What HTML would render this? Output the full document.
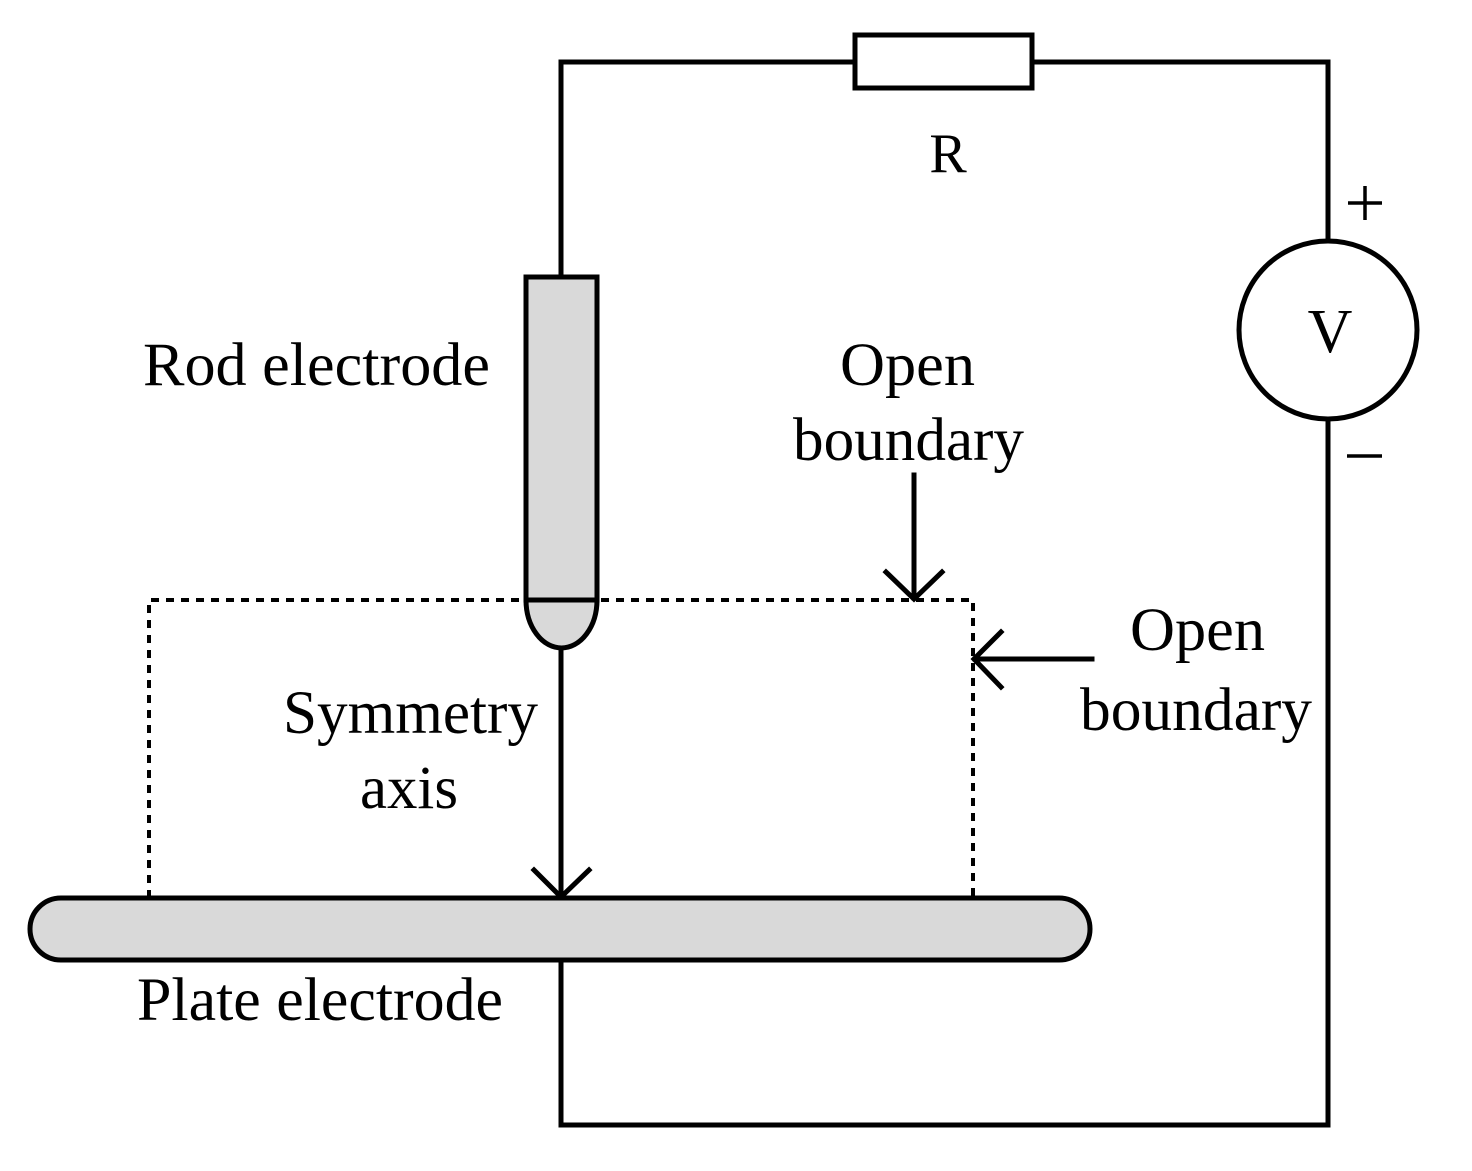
<!DOCTYPE html>
<html><head><meta charset="utf-8"><style>
html,body{margin:0;padding:0;background:#fff;}
svg{display:block}
text{font-family:"Liberation Serif",serif;fill:#000}
</style></head><body>
<svg width="1472" height="1171" viewBox="0 0 1472 1171" xmlns="http://www.w3.org/2000/svg">
<g stroke="#000" stroke-width="5" fill="none" stroke-linecap="square">
<polyline points="561,277 561,62 855,62"/>
<rect x="855" y="35" width="177" height="53"/>
<polyline points="1032,62 1328,62 1328,240"/>
<circle cx="1328" cy="330" r="89"/>
<polyline points="1328,420 1328,1125 561,1125 561,960"/>
<path d="M526,277 L597,277 L597,600 A35.5,48 0 0 1 526,600 Z" fill="#d9d9d9"/>
<line x1="526" y1="600" x2="597" y2="600"/>
<line x1="561" y1="648" x2="561" y2="897"/>
<polyline points="534,870 561,897 589,870"/>
<polyline points="149,898 149,600 973,600 973,898" stroke-dasharray="8,7" stroke-linecap="butt" stroke-width="4"/>
<rect x="30" y="898" width="1060" height="62" rx="31" ry="31" fill="#d9d9d9"/>
<line x1="914" y1="475" x2="914" y2="598"/>
<polyline points="886,572 914,599 942,572"/>
<line x1="1092" y1="659" x2="975" y2="659"/>
<polyline points="1001,632 974,659 1001,687"/>
</g>
<g stroke="#000" stroke-width="3.5">
<line x1="1348" y1="203" x2="1382" y2="203"/>
<line x1="1365" y1="186" x2="1365" y2="220"/>
<line x1="1347" y1="456" x2="1382" y2="456"/>
</g>
<text x="948" y="172" font-size="56" text-anchor="middle">R</text>
<text x="1330" y="352" font-size="62" text-anchor="middle">V</text>
<text x="143" y="385" font-size="61" textLength="347" lengthAdjust="spacingAndGlyphs">Rod electrode</text>
<text x="840" y="385" font-size="61" textLength="135" lengthAdjust="spacingAndGlyphs">Open</text>
<text x="793" y="460" font-size="61" textLength="231" lengthAdjust="spacingAndGlyphs">boundary</text>
<text x="1130" y="650" font-size="61" textLength="135" lengthAdjust="spacingAndGlyphs">Open</text>
<text x="1080" y="730" font-size="61" textLength="232" lengthAdjust="spacingAndGlyphs">boundary</text>
<text x="283" y="733" font-size="61" textLength="255" lengthAdjust="spacingAndGlyphs">Symmetry</text>
<text x="360" y="808" font-size="61" textLength="98" lengthAdjust="spacingAndGlyphs">axis</text>
<text x="137" y="1020" font-size="61" textLength="366" lengthAdjust="spacingAndGlyphs">Plate electrode</text>
</svg>
</body></html>
